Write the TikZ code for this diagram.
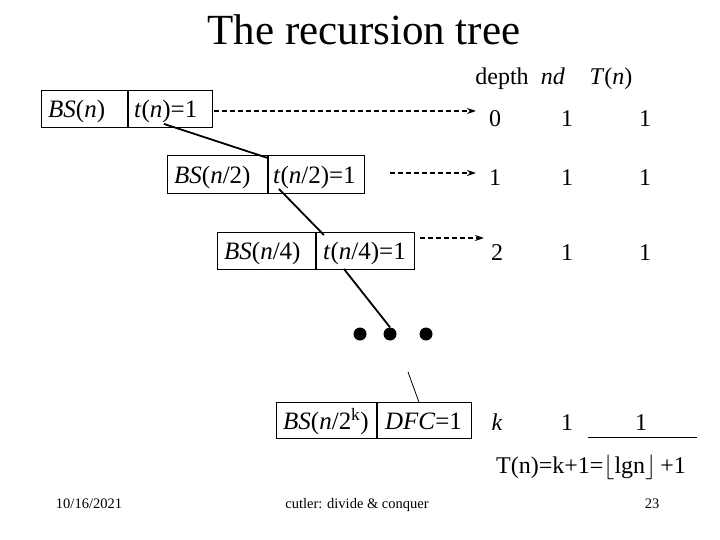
\documentclass[tikz,border=0pt]{standalone}
\usepackage{fontspec}
\setmainfont{Liberation Serif}
\usetikzlibrary{arrows.meta,calc}
\begin{document}
\begin{tikzpicture}[x=1pt,y=-1pt,
  cell/.style={draw,line width=0.9pt,anchor=north west,inner sep=0pt},
  txt/.style={anchor=base west,inner sep=0pt,font=\fontsize{25}{28}\selectfont},
  val/.style={anchor=base,inner sep=0pt,font=\fontsize{24}{28}\selectfont},
  foot/.style={anchor=base,inner sep=0pt,font=\fontsize{14.5}{16}\selectfont},
  link/.style={line width=1.8pt},
  thin link/.style={line width=0.8pt},
  dasharrow/.style={line width=1.3pt,dash pattern=on 5pt off 3pt,-{Stealth[length=9pt,width=6pt]}},
  dot/.style={circle,fill=black,minimum size=13pt,inner sep=0pt}]
\useasboundingbox (0,0) rectangle (720,540);
% title
\node[anchor=base,inner sep=0pt,font=\fontsize{43}{48}\selectfont] (title) at (364,45) {The recursion tree};
% header
\node[val] (hdepth) at (502,85) {depth};
\node[val] (hnd) at (553,85) {\textit{nd}};
\node[val] (hT) at (611,85) {\textit{T}(\textit{n})};
% box 1
\node[cell,minimum width=86,minimum height=37] (b1l) at (41,90) {};
\node[cell,minimum width=84,minimum height=37] (b1r) at (b1l.north east) {};
\node[txt] (t1l) at ($(b1l.west)+(7,9)$) {\textit{BS}(\textit{n})};
\node[txt] (t1r) at ($(b1r.west)+(6,9)$) {\textit{t}(\textit{n})=1};
% box 2
\node[cell,minimum width=100,minimum height=38] (b2l) at (167,155) {};
\node[cell,minimum width=96,minimum height=38] (b2r) at (b2l.north east) {};
\node[txt] (t2l) at ($(b2l.west)+(7,9)$) {\textit{BS}(\textit{n}/2)};
\node[txt] (t2r) at ($(b2r.west)+(5,9)$) {\textit{t}(\textit{n}/2)=1};
% box 3
\node[cell,minimum width=98,minimum height=37] (b3l) at (217,232) {};
\node[cell,minimum width=98,minimum height=37] (b3r) at (b3l.north east) {};
\node[txt] (t3l) at ($(b3l.west)+(7,9)$) {\textit{BS}(\textit{n}/4)};
\node[txt] (t3r) at ($(b3r.west)+(7,9)$) {\textit{t}(\textit{n}/4)=1};
% box 4
\node[cell,minimum width=100,minimum height=36] (b4l) at (276,402) {};
\node[cell,minimum width=94,minimum height=36] (b4r) at (b4l.north east) {};
\node[txt] (t4l) at ($(b4l.west)+(7,9)$) {\textit{BS}(\textit{n}/2\textsuperscript{k})};
\node[txt] (t4r) at ($(b4r.west)+(8,9)$) {\textit{DFC}=1};
% rows
\node[val] (d0) at (495,127) {0};
\node[val] (n0) at (567,127) {1};
\node[val] (T0) at (645,127) {1};
\node[val] (d1) at (495,186) {1};
\node[val] (n1) at (567,186) {1};
\node[val] (T1) at (645,186) {1};
\node[val] (d2) at (497,260) {2};
\node[val] (n2) at (567,260) {1};
\node[val] (T2) at (645,260) {1};
\node[val] (dk) at (497,430) {\textit{k}};
\node[val] (nk) at (567,430) {1};
\node[val] (Tk) at (641,430) {1};
% overline and formula
\coordinate (olA) at (588,437);
\coordinate (olB) at (697,437);
\draw[line width=0.9pt] (olA) -- (olB);
\node[val] (formula) at (591,473) {T(n)=k+1=$\lfloor$lgn$\rfloor$\,+1};
% dashed arrows
\coordinate (a1s) at (214,111);
\coordinate (a1e) at (476,111);
\draw[dasharrow] (a1s) -- (a1e);
\coordinate (a2s) at (390,173);
\coordinate (a2e) at (476,173);
\draw[dasharrow] (a2s) -- (a2e);
\coordinate (a3s) at (420,238);
\coordinate (a3e) at (484,238);
\draw[dasharrow] (a3s) -- (a3e);
% dots
\node[dot] (dotA) at (360,334) {};
\node[dot] (dotB) at (390,334) {};
\node[dot] (dotC) at (426,334) {};
% solid links
\coordinate (l1s) at ($(b1r.south west)+(36,-4)$);
\coordinate (l1e) at ($(b2r.north west)+(0,3)$);
\draw[link] (l1s) -- (l1e);
\coordinate (l2s) at ($(b2r.south west)+(11,-5)$);
\coordinate (l2e) at ($(b3r.north west)+(8,3)$);
\draw[link] (l2s) -- (l2e);
\coordinate (l3s) at ($(b3r.south west)+(28,-1)$);
\draw[link] (l3s) -- (dotB.north);
\coordinate (l4s) at (408,372);
\coordinate (l4e) at ($(b4r.north west)+(42,0)$);
\draw[thin link] (l4s) -- (l4e);
% footer
\node[foot] (fdate) at (89,508) {10/16/2021};
\node[foot] (fmid) at (357,508) {cutler: divide \& conquer};
\node[foot] (fnum) at (652,508) {23};
\end{tikzpicture}
\end{document}
